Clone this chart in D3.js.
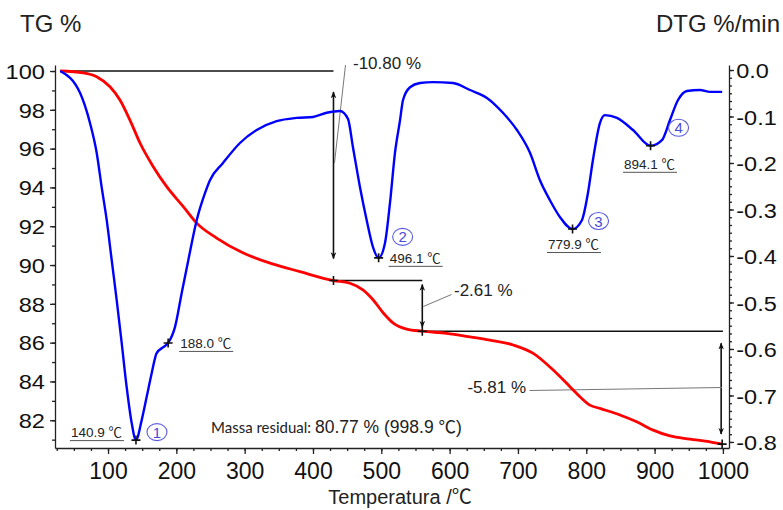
<!DOCTYPE html>
<html lang="pt">
<head>
<meta charset="UTF-8">
<title>TG / DTG</title>
<script src="https://d3js.org/d3.v7.min.js"></script>
<style>
  body { margin: 0; background: #fff; }
  svg { display: block; }
  .lbl { font-family: "Liberation Sans", Arial, "Noto Sans CJK SC", sans-serif; fill: #222; }
  .axis path, .axis line { stroke: #222; stroke-width: 1.3; }
  .axis text { font-family: "Liberation Sans", Arial, sans-serif; fill: #111; }
</style>
</head>
<body>
<div id="chart"></div>
<script>
// TG curve (mass %, left axis)
var tgTemp = [30, 63.8, 83.4, 102.9, 117.5, 132.1, 146.8, 166.2, 185.9, 210.2, 229.8, 259, 298, 337, 380.9,
              430, 454.1, 473.6, 488.2, 502.9, 517.5, 537.1, 560, 595.6, 629.7, 659, 693.1, 722.4, 751.6,
              776.1, 790.7, 805.3, 820, 849.3, 873.7, 898, 922.4, 951.7, 981, 998.9];
var tgMass = [100, 99.91, 99.71, 99.19, 98.51, 97.47, 96.29, 95.07, 94.04, 93.01, 92.16, 91.39, 90.62, 90.10, 89.66,
              89.20, 89.06, 88.71, 88.20, 87.53, 87.01, 86.70, 86.59, 86.48, 86.30, 86.13, 85.88, 85.45, 84.59,
              83.73, 83.21, 82.78, 82.61, 82.27, 81.92, 81.49, 81.19, 81.03, 80.89, 80.77];

// DTG curve (%/min, right axis)
var dtgTemp = [30, 59, 73.6, 83.4, 90.7, 98.1, 105.4, 112.7, 120, 127.3, 134.6, 140.9, 149.3, 156.6, 163.9,
               171.2, 180.9, 188, 198, 207.8, 217.5, 229.8, 241.9, 249.2, 268.3, 293.1, 317.6, 346.8, 376.1,
               400, 420, 439.5, 451.2, 458.5, 468.8, 478.6, 487.8, 496.1, 505.4, 512.7, 520, 527.4, 531.7,
               542, 556.6, 575.6, 604.9, 629.7, 654.6, 678, 698.5, 717.6, 732.2, 746.8, 761.4, 779.9, 793.6,
               802.4, 809.7, 820, 827.3, 844.9, 868.3, 894.1, 910.7, 922.4, 934.1, 947.3, 966.3, 981, 998.9];
var dtgRate = [-0.002, -0.049, -0.114, -0.178, -0.252, -0.323, -0.409, -0.495, -0.587, -0.682, -0.759, -0.796, -0.753, -0.703, -0.652,
               -0.609, -0.596, -0.587, -0.553, -0.480, -0.409, -0.323, -0.265, -0.237, -0.200, -0.157, -0.129, -0.110, -0.103,
               -0.101, -0.092, -0.088, -0.105, -0.166, -0.252, -0.323, -0.381, -0.404, -0.372, -0.286, -0.178, -0.108, -0.065,
               -0.037, -0.028, -0.026, -0.028, -0.043, -0.060, -0.092, -0.129, -0.178, -0.237, -0.280, -0.316, -0.342, -0.323,
               -0.265, -0.194, -0.114, -0.097, -0.103, -0.129, -0.163, -0.151, -0.108, -0.065, -0.045, -0.043, -0.047, -0.047];

// DTG peaks
var peakTemp = [140.9, 188.0, 496.1, 779.9, 894.1];
var peakRate = [-0.796, -0.587, -0.404, -0.342, -0.163];
var peakText = ["140.9 ℃", "188.0 ℃", "496.1 ℃", "779.9 ℃", "894.1 ℃"];
var peakNum  = ["1", "", "2", "3", "4"];

// mass loss steps
var stepTemp = [430, 560, 998.9];
var stepMass = [100, 89.20, 86.59, 80.77];
var stepText = ["-10.80 %", "-2.61 %", "-5.81 %"];

var xTicks = [100, 200, 300, 400, 500, 600, 700, 800, 900, 1000];
var tgTicks = [82, 84, 86, 88, 90, 92, 94, 96, 98, 100];
var dtgTicks = [0, -0.1, -0.2, -0.3, -0.4, -0.5, -0.6, -0.7, -0.8];

var W = 783, H = 510;
var svg = d3.select("#chart").append("svg").attr("width", W).attr("height", H);

var x = d3.scaleLinear().domain([22.4, 1008.9]).range([55, 729]);
var yTG = d3.scaleLinear().domain([80.57, 100.31]).range([448, 65]);
var yDTG = d3.scaleLinear().domain([-0.813, 0.0108]).range([448, 65]);

// arrow marker
svg.append("defs").append("marker")
    .attr("id", "arr").attr("viewBox", "0 0 10 10").attr("refX", 9).attr("refY", 5)
    .attr("markerWidth", 7).attr("markerHeight", 7).attr("orient", "auto-start-reverse")
    .attr("markerUnits", "userSpaceOnUse")
  .append("path").attr("d", "M0,1 L10,5 L0,9 L3,5 Z").attr("fill", "#111");

// axes
var axL = svg.append("g").attr("class", "axis").attr("transform", "translate(55,0)");
axL.call(d3.axisLeft(yTG).tickValues(d3.range(81, 101, 1)).tickSize(3).tickSizeOuter(0).tickFormat(""));
axL.append("g").call(d3.axisLeft(yTG).tickValues(tgTicks).tickSize(5).tickSizeOuter(0).tickPadding(6))
   .call(function(g) { g.select(".domain").remove(); });
axL.selectAll("text").attr("font-size", 20)
   .attr("transform", "scale(1.18,1)")
   .attr("x", -8.5).attr("dy", "0.36em");

var axR = svg.append("g").attr("class", "axis").attr("transform", "translate(729,0)");
axR.call(d3.axisRight(yDTG).tickValues(d3.range(0, 49).map(function(i) { return -i / 60; })).tickSize(3).tickSizeOuter(0).tickFormat(""));
axR.append("g").call(d3.axisRight(yDTG).tickValues(dtgTicks).tickSize(5).tickSizeOuter(0)
     .tickFormat(function(d) { return d3.format(".1f")(d).replace("\u2212", "-"); }))
   .call(function(g) { g.select(".domain").remove(); });
axR.selectAll("text").attr("font-size", 21)
   .attr("transform", "scale(1.12,1)").attr("x", 6.5).attr("dy", "0.36em");

var axB = svg.append("g").attr("class", "axis").attr("transform", "translate(0,448)");
axB.call(d3.axisBottom(x).tickValues(d3.range(25, 1001, 25)).tickSize(3).tickSizeOuter(0).tickFormat(""));
axB.append("g").call(d3.axisBottom(x).tickValues(xTicks).tickSize(6).tickSizeOuter(0).tickPadding(9).tickFormat(d3.format("d")))
   .call(function(g) { g.select(".domain").remove(); });
axB.selectAll("text").attr("font-size", 23);

// axis titles
svg.append("text").attr("class", "lbl").attr("x", 20).attr("y", 32).attr("font-size", 24).text("TG %");
svg.append("text").attr("class", "lbl").attr("x", 780).attr("y", 32).attr("font-size", 24)
   .attr("text-anchor", "end").text("DTG %/min");
svg.append("text").attr("class", "lbl").attr("x", 400).attr("y", 504).attr("font-size", 20)
   .attr("text-anchor", "middle").text("Temperatura /℃");

// step lines
var hl = svg.append("g").attr("stroke", "#111").attr("stroke-width", 1.6);
hl.append("line").attr("x1", x(tgTemp[0])).attr("x2", x(stepTemp[0])).attr("y1", yTG(stepMass[0])).attr("y2", yTG(stepMass[0]));
hl.append("line").attr("x1", x(stepTemp[0])).attr("x2", x(stepTemp[1])).attr("y1", yTG(stepMass[1])).attr("y2", yTG(stepMass[1]));
hl.append("line").attr("x1", x(stepTemp[1])).attr("x2", x(1000)).attr("y1", yTG(stepMass[2])).attr("y2", yTG(stepMass[2]));

// vertical arrows (with insets from the levels)
var insetTop = [21, 4, 12], insetBot = [22, 4, 10];
stepTemp.forEach(function(t, i) {
  svg.append("line")
    .attr("x1", x(t) - (i == 2 ? 1 : 0)).attr("x2", x(t) - (i == 2 ? 1 : 0))
    .attr("y1", yTG(stepMass[i]) + insetTop[i]).attr("y2", yTG(stepMass[i + 1]) - insetBot[i])
    .attr("stroke", "#111").attr("stroke-width", 1.6)
    .attr("marker-start", "url(#arr)").attr("marker-end", "url(#arr)");
});

// leader lines and step labels
var leaders = [
  {x1: x(stepTemp[0]) + 1, y1: 163, x2: 345.5, y2: 65, tx: 353, ty: 69},
  {x1: x(stepTemp[1]) + 1, y1: 306.5, x2: 451.5, y2: 294.5, tx: 454, ty: 296},
  {x1: x(stepTemp[2]), y1: 387.5, x2: 529.5, y2: 390.5, tx: 526, ty: 393}
];
leaders.forEach(function(d, i) {
  svg.append("line").attr("x1", d.x1).attr("y1", d.y1).attr("x2", d.x2).attr("y2", d.y2)
     .attr("stroke", "#777").attr("stroke-width", 1);
  svg.append("text").attr("class", "lbl").attr("x", d.tx).attr("y", d.ty).attr("font-size", 17)
     .attr("fill", "#333").attr("text-anchor", i == 2 ? "end" : "start").text(stepText[i]);
});

// curves
var tg = tgTemp.map(function(t, i) { return [t, tgMass[i]]; });
var dtg = dtgTemp.map(function(t, i) { return [t, dtgRate[i]]; });

svg.append("path").datum(tg).attr("fill", "none").attr("stroke", "#ff0000").attr("stroke-width", 2.8)
   .attr("d", d3.line().x(function(d) { return x(d[0]); }).y(function(d) { return yTG(d[1]); }).curve(d3.curveMonotoneX));
svg.append("path").datum(dtg).attr("fill", "none").attr("stroke", "#0000ff").attr("stroke-width", 2.4)
   .attr("d", d3.line().x(function(d) { return x(d[0]); }).y(function(d) { return yDTG(d[1]); }).curve(d3.curveMonotoneX));

// cross markers
function cross(cx, cy) {
  svg.append("path").attr("d", "M" + (cx - 4.5) + "," + cy + "H" + (cx + 4.5) + "M" + cx + "," + (cy - 4.5) + "V" + (cy + 4.5))
     .attr("stroke", "#111").attr("stroke-width", 1.6);
}
stepTemp.forEach(function(t, i) { cross(x(t), yTG(stepMass[i + 1])); });
peakTemp.forEach(function(t, i) { cross(x(t), yDTG(peakRate[i])); });

// peak temperature labels (underlined)
var peakOff = [
  {dx: -14, dy: -3, anchor: "end"},
  {dx: 12, dy: 5, anchor: "start"},
  {dx: 11, dy: 5, anchor: "start"},
  {dx: 1, dy: 20, anchor: "middle"},
  {dx: -1, dy: 23, anchor: "middle"}
];
peakTemp.forEach(function(t, i) {
  var px = x(t) + peakOff[i].dx, py = yDTG(peakRate[i]) + peakOff[i].dy;
  var tx = svg.append("text").attr("class", "lbl").attr("x", px).attr("y", py).attr("font-size", 13.5)
     .attr("fill", "#333").attr("text-anchor", peakOff[i].anchor).text(peakText[i]);
  var bb = tx.node().getBBox();
  svg.append("line").attr("x1", bb.x - 1).attr("x2", bb.x + bb.width + 2).attr("y1", py + 3.5).attr("y2", py + 3.5)
     .attr("stroke", "#555").attr("stroke-width", 1);
});

// circled peak numbers
var numOff = [[21, -8], null, [24, -21], [26, -8], [28, -18]];
peakTemp.forEach(function(t, i) {
  if (!peakNum[i]) return;
  var cx = x(t) + numOff[i][0], cy = yDTG(peakRate[i]) + numOff[i][1];
  svg.append("ellipse").attr("cx", cx).attr("cy", cy).attr("rx", 10).attr("ry", 8.5)
     .attr("fill", "none").attr("stroke", "#5a5ae0").attr("stroke-width", 1.1);
  svg.append("text").attr("x", cx).attr("y", cy + 5.5).attr("text-anchor", "middle")
     .attr("font-family", "Liberation Sans, Arial, sans-serif").attr("font-size", 15)
     .attr("fill", "#4a4ad8").text(peakNum[i]);
});

// residual mass note
var note = svg.append("text").attr("x", 211).attr("y", 433);
note.append("tspan").attr("font-family", "Lato, 'Open Sans', sans-serif").attr("font-size", 15).attr("fill", "#222")
    .text("Massa residual: ");
note.append("tspan").attr("font-family", "Liberation Sans, Arial, 'Noto Sans CJK SC', sans-serif").attr("font-size", 17.5)
    .attr("fill", "#222").text("80.77 % (998.9 ℃)");
</script>
</body>
</html>
